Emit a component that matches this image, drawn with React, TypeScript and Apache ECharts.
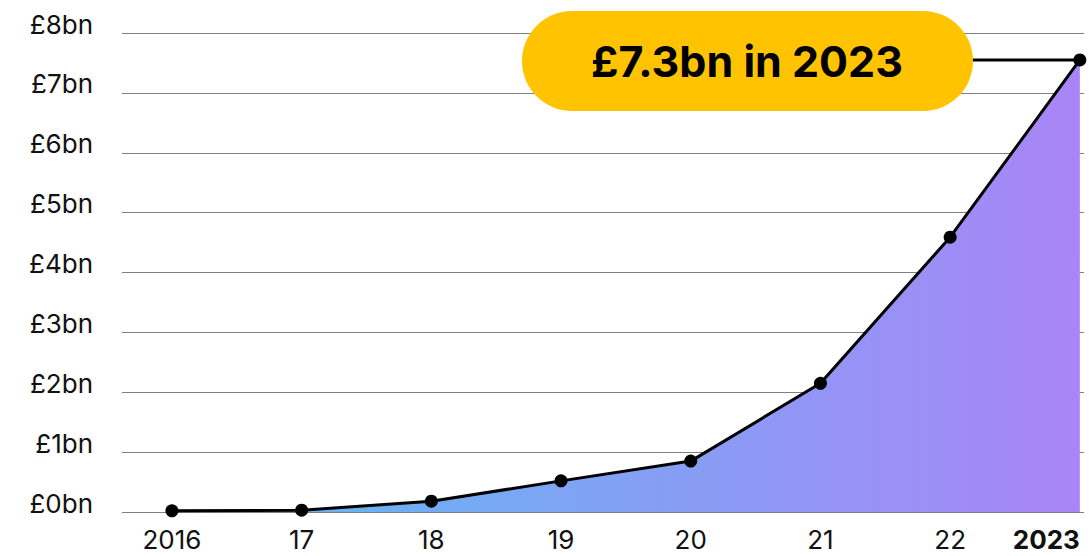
import React, { useEffect, useRef } from "react";
import * as echarts from "echarts";

const years = [2016, 2017, 2018, 2019, 2020, 2021, 2022, 2023];
const values = [0.02, 0.03, 0.18, 0.52, 0.85, 2.15, 4.59, 7.55];
const yTicks = [0, 1, 2, 3, 4, 5, 6, 7, 8];
const calloutText = "£7.3bn in 2023";

export default function App() {
  const ref = useRef<HTMLDivElement>(null);
  useEffect(() => {
    document.body.style.margin = "0";
    const chart = echarts.init(ref.current!, null, { renderer: "svg" });
    const font = "Inter, 'Noto Sans', sans-serif";
    chart.setOption({
      animation: false,
      grid: { left: 122, right: 6, top: 33, bottom: 44 },
      xAxis: {
        type: "value",
        min: 2015.615,
        max: 2023.032,
        axisLine: { show: false },
        axisTick: { show: false },
        splitLine: { show: false },
        axisLabel: {
          customValues: years,
          margin: 14,
          fontFamily: font,
          fontSize: 26,
          color: "#111",
          alignMaxLabel: "right",
          formatter: (v: number) => {
            if (v === years[0]) return String(v);
            if (v === years[years.length - 1]) return "{b|" + v + "}";
            return String(v).slice(2);
          },
          rich: {
            b: { fontWeight: "bold", fontSize: 26, fontFamily: font, color: "#111" },
          },
        },
      },
      yAxis: {
        type: "value",
        min: 0,
        max: 8,
        interval: 1,
        axisLine: { show: false },
        axisTick: { show: false },
        splitLine: { lineStyle: { color: "#808080", width: 1 } },
        axisLabel: {
          margin: 29,
          verticalAlign: "middle",
          formatter: (v: number) => (yTicks.includes(v) ? "{a|£" + v + "bn}" : ""),
          rich: {
            a: {
              fontFamily: font,
              fontSize: 26,
              color: "#111",
              padding: [0, 0, 18, 0],
            },
          },
        },
      },
      series: [
        {
          type: "line",
          data: years.map((y, i) => [y, values[i]]),
          symbol: "circle",
          symbolSize: 13,
          itemStyle: { color: "#000" },
          lineStyle: { color: "#000", width: 3 },
          areaStyle: {
            opacity: 1,
            color: new echarts.graphic.LinearGradient(0, 0, 1, 0, [
              { offset: 0, color: "#5cbcf2" },
              { offset: 1, color: "#a985f6" },
            ]),
          },
          z: 3,
        },
      ],
      graphic: [
        {
          type: "line",
          shape: { x1: 960, y1: 60, x2: 1080, y2: 60 },
          style: { stroke: "#000", lineWidth: 3 },
          z: 5,
        },
        {
          type: "rect",
          shape: { x: 522, y: 11, width: 451, height: 100, r: 50 },
          style: { fill: "#ffc300" },
          z: 6,
        },
        {
          type: "text",
          x: 747,
          y: 61,
          style: {
            text: calloutText,
            fontFamily: font,
            fontSize: 43,
            fontWeight: "bold",
            fill: "#000",
            align: "center",
            verticalAlign: "middle",
          },
          z: 7,
        },
      ],
    });
    return () => chart.dispose();
  }, []);
  return <div ref={ref} style={{ width: 1090, height: 556 }} />;
}
